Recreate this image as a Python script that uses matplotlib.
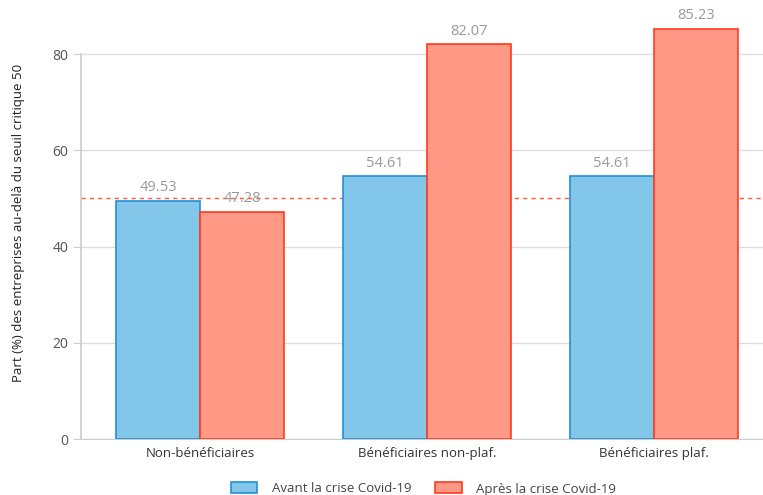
import numpy as np
import matplotlib.pyplot as plt
from matplotlib.patches import Patch

plt.rcParams['font.family'] = ['Open Sans', 'DejaVu Sans']

categories = ['Non-bénéficiaires', 'Bénéficiaires non-plaf.', 'Bénéficiaires plaf.']
avant = [49.53, 54.61, 54.61]
apres = [47.28, 82.07, 85.23]
seuil = 50
series_names = ['Avant la crise Covid-19', 'Après la crise Covid-19']

blue_fill, blue_edge = '#82c7e9', '#2290d4'
red_fill, red_edge = '#ff9884', '#ff3b1e'


def main():
    fig = plt.figure(figsize=(7.63, 4.95), dpi=100)
    ax = fig.add_axes([0.1062, 0.1131, 0.8938, 0.8747])

    x = np.arange(len(categories))
    w = 0.37
    b1 = ax.bar(x - w / 2, avant, w, color=blue_fill, edgecolor=blue_edge, linewidth=1.2, zorder=3)
    b2 = ax.bar(x + w / 2, apres, w, color=red_fill, edgecolor=red_edge, linewidth=1.2, zorder=3)

    for bars, vals in ((b1, avant), (b2, apres)):
        for rect, v in zip(bars, vals):
            ax.annotate(f'{v:.2f}', (rect.get_x() + rect.get_width() / 2, v),
                        xytext=(0, 4), textcoords='offset points',
                        ha='center', va='bottom', fontsize=10.5, color='#9a9a9a', zorder=4)

    ax.axhline(seuil, color='#ff5a3c', linestyle=(0, (3, 3)), linewidth=1, zorder=2)

    ax.set_xlim(-0.524, 2.48)
    ax.set_ylim(0, 90)
    ax.set_yticks([0, 20, 40, 60, 80])
    ax.set_xticks(x)
    ax.set_xticklabels(categories)
    ax.grid(axis='y', color='#dddddd', linewidth=1, zorder=0)
    ax.tick_params(axis='x', length=0, labelsize=9.5, labelcolor='#333333', pad=6)
    ax.tick_params(axis='y', length=6, color='#cccccc', labelsize=10, labelcolor='#555555', pad=3)
    for s in ('top', 'right'):
        ax.spines[s].set_visible(False)
    ax.spines['left'].set_color('#cccccc')
    ax.spines['left'].set_linewidth(1.2)
    ax.spines['left'].set_bounds(0, 80)
    ax.spines['bottom'].set_color('#cccccc')

    ax.set_ylabel('Part (%) des entreprises au-delà du seuil critique 50', fontsize=9.5, color='#222222', labelpad=20)

    handles = [Patch(facecolor=blue_fill, edgecolor=blue_edge, linewidth=1.2),
               Patch(facecolor=red_fill, edgecolor=red_edge, linewidth=1.2)]
    fig.legend(handles, series_names, loc='lower center', bbox_to_anchor=(0.555, -0.025), ncol=2,
               frameon=False, fontsize=9.5, handlelength=2.0, handleheight=0.9,
               handletextpad=1.1, columnspacing=1.8, labelcolor='#444444')

    fig.savefig('out.png', dpi=100)


if __name__ == "__main__":
    main()
